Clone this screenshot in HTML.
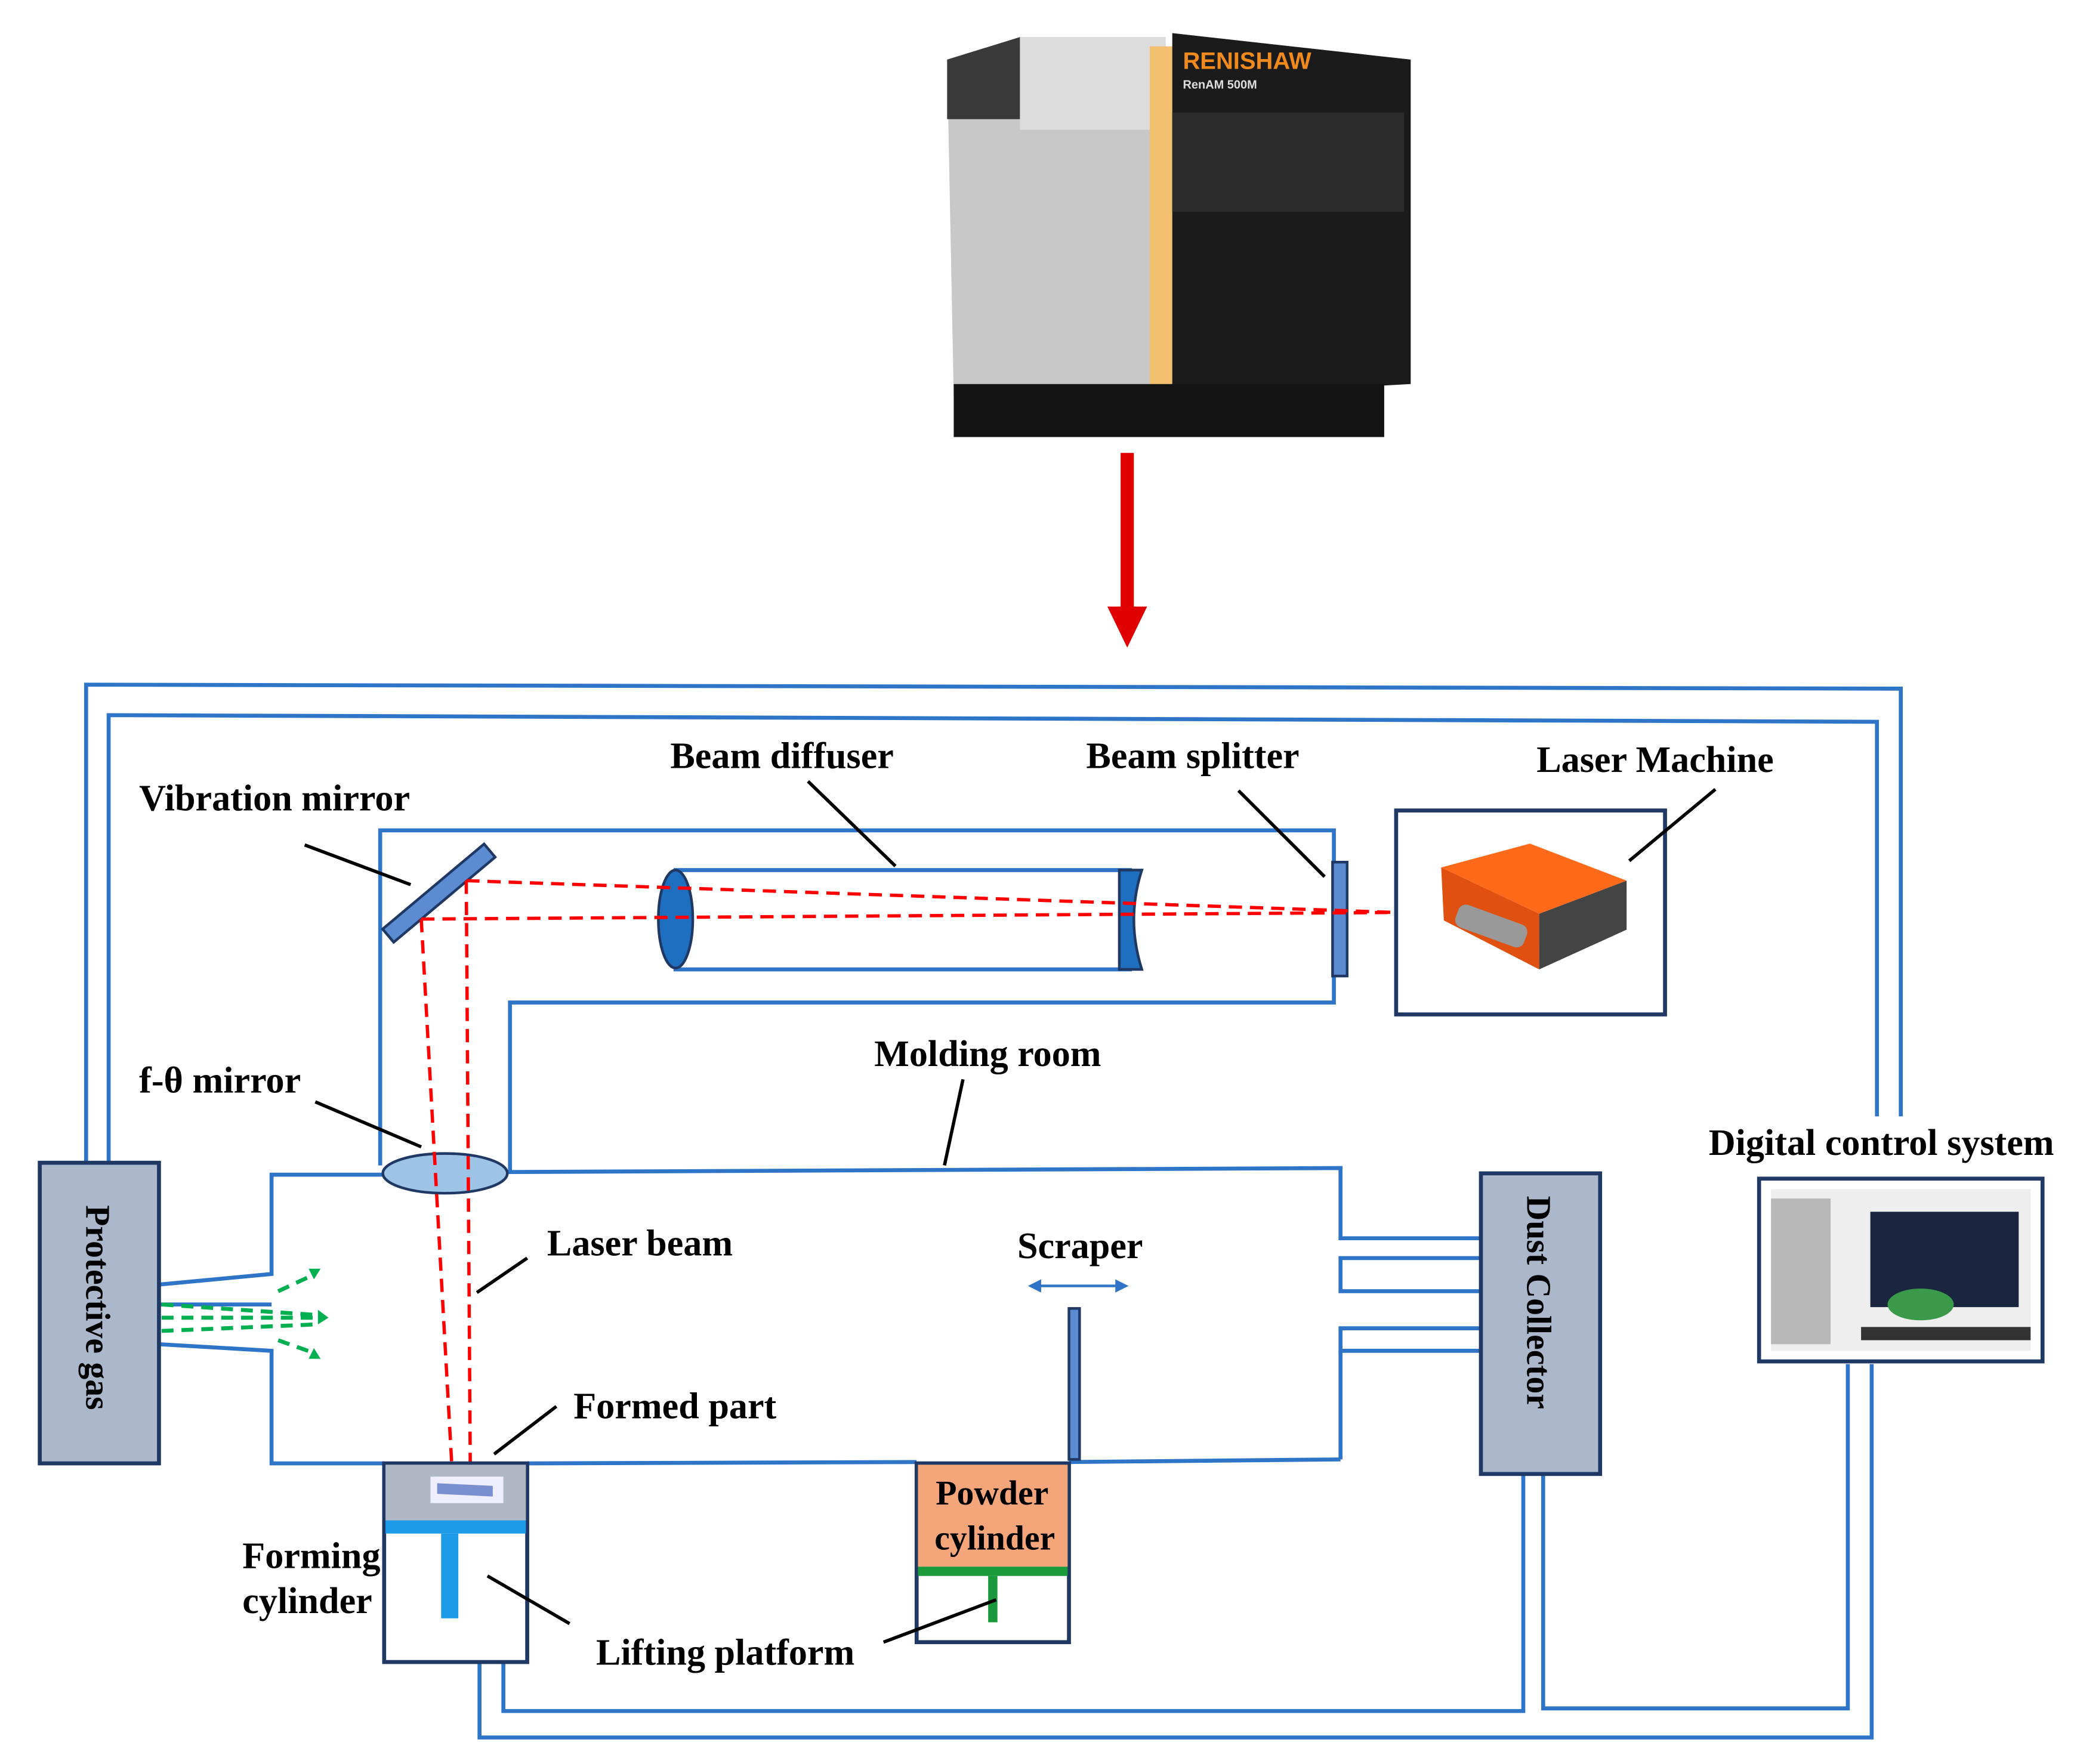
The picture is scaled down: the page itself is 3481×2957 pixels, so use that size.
<!DOCTYPE html>
<html><head><meta charset="utf-8"><style>html,body{margin:0;padding:0;background:#fff}svg{display:block}</style></head><body>
<svg width="3481" height="2957" viewBox="0 0 1568 1332" xmlns="http://www.w3.org/2000/svg" font-family="Liberation Serif, serif" font-weight="bold" font-size="28">
<!-- printer -->
<polygon points="715,45 770,28 880,28 880,300 720,300" fill="#c8c8c8"/>
<polygon points="715,45 770,28 770,90 715,90" fill="#3a3a3a"/>
<rect x="770" y="28" width="110" height="70" fill="#dcdcdc"/>
<rect x="868" y="35" width="18" height="265" fill="#f3c070"/>
<polygon points="885,25 1065,45 1065,290 885,300" fill="#1b1b1b"/>
<rect x="885" y="85" width="175" height="75" fill="#2c2c2c"/>
<rect x="720" y="290" width="325" height="40" fill="#141414"/>
<text x="893" y="52" font-family="Liberation Sans, sans-serif" font-size="18" fill="#f08a1c">RENISHAW</text>
<text x="893" y="67" font-family="Liberation Sans, sans-serif" font-size="9" fill="#ddd">RenAM 500M</text>
<!-- red arrow -->
<rect x="846" y="342" width="10" height="120" fill="#e00000"/>
<polygon points="836,458 866,458 851,489" fill="#e00000"/>
<g fill="none" stroke="#2e75c8" stroke-width="3">
<polyline points="65,877 65,517 1435,520 1435,843"/>
<polyline points="82,877 82,540 1417,545 1417,843"/>
<polyline points="287,880 287,627 1007,627 1007,757 385,757 385,885"/>
<polyline points="290,887 205,887 205,962 120,970"/>
<polyline points="120,1015 205,1020 205,1105 290,1105"/>
<line x1="120" y1="985" x2="205" y2="985"/>
<line x1="398" y1="1105" x2="692" y2="1104"/>
<line x1="807" y1="1104" x2="1012" y2="1102"/>
<polyline points="383,885 1012,882 1012,935 1118,935"/>
<polyline points="1118,950 1012,950 1012,975 1118,975"/>
<polyline points="1118,1003 1012,1003 1012,1020 1118,1020"/>
<line x1="1012" y1="1020" x2="1012" y2="1102"/>
<polyline points="362,1255 362,1312 1413,1312 1413,1030"/>
<polyline points="380,1255 380,1292 1150,1292 1150,1113"/>
<polyline points="1165,1113 1165,1290 1395,1290 1395,1030"/>
</g>
<!-- protective gas -->
<rect x="30" y="878" width="90" height="227" fill="#abb8cb" stroke="#1f3864" stroke-width="3"/>
<text transform="translate(65,910) rotate(90)" font-size="26">Protective gas</text>
<g stroke="#00b050" stroke-width="3" stroke-dasharray="9,6" fill="#00b050">
<line x1="122" y1="985" x2="240" y2="993"/><line x1="122" y1="995" x2="240" y2="995"/><line x1="122" y1="1005" x2="240" y2="1000"/>
<line x1="210" y1="975" x2="238" y2="962"/><line x1="210" y1="1012" x2="238" y2="1022"/>
</g>
<polygon points="240,989 248,995 240,1000" fill="#00b050"/>
<polygon points="233,958 242,958 237,966" fill="#00b050"/>
<polygon points="233,1026 242,1026 237,1018" fill="#00b050"/>
<!-- dust collector -->
<rect x="1118" y="886" width="90" height="227" fill="#abb8cb" stroke="#1f3864" stroke-width="3"/>
<text transform="translate(1153,903) rotate(90)" font-size="26">Dust Collector</text>
<!-- digital control -->
<rect x="1328" y="890" width="214" height="138" fill="#fff" stroke="#1f3864" stroke-width="3"/>
<rect x="1337" y="898" width="196" height="122" fill="#eee"/>
<rect x="1337" y="905" width="45" height="110" fill="#b8b8b8"/>
<rect x="1412" y="915" width="112" height="72" fill="#1a2640"/>
<ellipse cx="1450" cy="985" rx="25" ry="12" fill="#3a9a4a"/>
<rect x="1405" y="1002" width="128" height="10" fill="#333"/>
<!-- laser machine -->
<rect x="1054" y="612" width="203" height="154" fill="#fff" stroke="#1f3864" stroke-width="3"/>
<polygon points="1088,655 1155,637 1228,665 1162,690" fill="#ff6a1a"/>
<polygon points="1088,655 1162,690 1162,732 1090,695" fill="#e05010"/>
<polygon points="1162,690 1228,665 1228,702 1162,732" fill="#444"/>
<rect x="1098" y="690" width="55" height="18" rx="6" fill="#999" transform="rotate(20 1125 700)"/>
<!-- vibration mirror -->
<rect x="281" y="668" width="100" height="13" fill="#5b8bd0" stroke="#1f3864" stroke-width="2" transform="rotate(-40 331 674)"/>
<!-- beam diffuser -->
<rect x="510" y="657" width="343" height="75" fill="none" stroke="#2e75c8" stroke-width="3"/>
<ellipse cx="510" cy="694" rx="13" ry="37" fill="#1f6fc0" stroke="#1f3864" stroke-width="2"/>
<path d="M845,657 L862,657 Q850,694 862,732 L845,732 Z" fill="#1f6fc0" stroke="#1f3864" stroke-width="2"/>
<rect x="1006" y="651" width="11" height="86" fill="#5b8bd0" stroke="#1f3864" stroke-width="2"/>
<!-- lens -->
<ellipse cx="336" cy="886" rx="47" ry="15" fill="#9dc3e6" stroke="#1f3864" stroke-width="2"/>
<!-- beams -->
<g stroke="#ff0000" stroke-width="2.5" stroke-dasharray="10,6" fill="none">
<line x1="352" y1="665" x2="1054" y2="689"/>
<line x1="318" y1="694" x2="1054" y2="689"/>
<line x1="318" y1="694" x2="341" y2="1105"/>
<line x1="352" y1="665" x2="355" y2="1105"/>
</g>
<!-- forming cylinder -->
<rect x="290" y="1105" width="108" height="150" fill="#fff" stroke="#1f3864" stroke-width="3"/>
<rect x="291" y="1106" width="106" height="42" fill="#b0b8c6"/>
<rect x="325" y="1115" width="55" height="20" fill="#eef" />
<path d="M330,1120 L372,1122 L372,1130 L330,1128 Z" fill="#7a8fd0"/>
<rect x="291" y="1148" width="106" height="10" fill="#1e9be8"/>
<rect x="333" y="1158" width="13" height="64" fill="#1e9be8"/>
<!-- powder cylinder -->
<rect x="692" y="1105" width="115" height="135" fill="#fff" stroke="#1f3864" stroke-width="3"/>
<rect x="693" y="1106" width="113" height="77" fill="#f4a57a"/>
<rect x="693" y="1183" width="113" height="7" fill="#1a9a3a"/>
<rect x="746" y="1190" width="7" height="35" fill="#1a9a3a"/>
<text x="749" y="1136" text-anchor="middle" font-size="26">Powder</text>
<text x="751" y="1170" text-anchor="middle" font-size="26">cylinder</text>
<!-- scraper -->
<rect x="807" y="988" width="8" height="114" fill="#5b8bd0" stroke="#1f3864" stroke-width="2"/>
<line x1="782" y1="971" x2="846" y2="971" stroke="#2e75c8" stroke-width="2"/>
<polygon points="776,971 786,966 786,976" fill="#2e75c8"/><polygon points="852,971 842,966 842,976" fill="#2e75c8"/>
<!-- leader lines -->
<g stroke="#000" stroke-width="2.5">
<line x1="230" y1="638" x2="310" y2="668"/>
<line x1="610" y1="590" x2="676" y2="654"/>
<line x1="935" y1="597" x2="1000" y2="662"/>
<line x1="1295" y1="596" x2="1230" y2="650"/>
<line x1="238" y1="832" x2="318" y2="866"/>
<line x1="727" y1="815" x2="713" y2="880"/>
<line x1="398" y1="950" x2="360" y2="976"/>
<line x1="420" y1="1062" x2="373" y2="1098"/>
<line x1="430" y1="1226" x2="368" y2="1190"/>
<line x1="667" y1="1240" x2="752" y2="1208"/>
</g>
<!-- labels -->
<text x="105" y="612">Vibration mirror</text>
<text x="506" y="580">Beam diffuser</text>
<text x="820" y="580">Beam splitter</text>
<text x="1160" y="583">Laser Machine</text>
<text x="660" y="805">Molding room</text>
<text x="105" y="825">f-θ mirror</text>
<text x="1290" y="872">Digital control system</text>
<text x="413" y="948">Laser beam</text>
<text x="768" y="950">Scraper</text>
<text x="433" y="1071">Formed part</text>
<text x="183" y="1184">Forming</text>
<text x="183" y="1218">cylinder</text>
<text x="450" y="1257">Lifting platform</text>
</svg>
</body></html>
